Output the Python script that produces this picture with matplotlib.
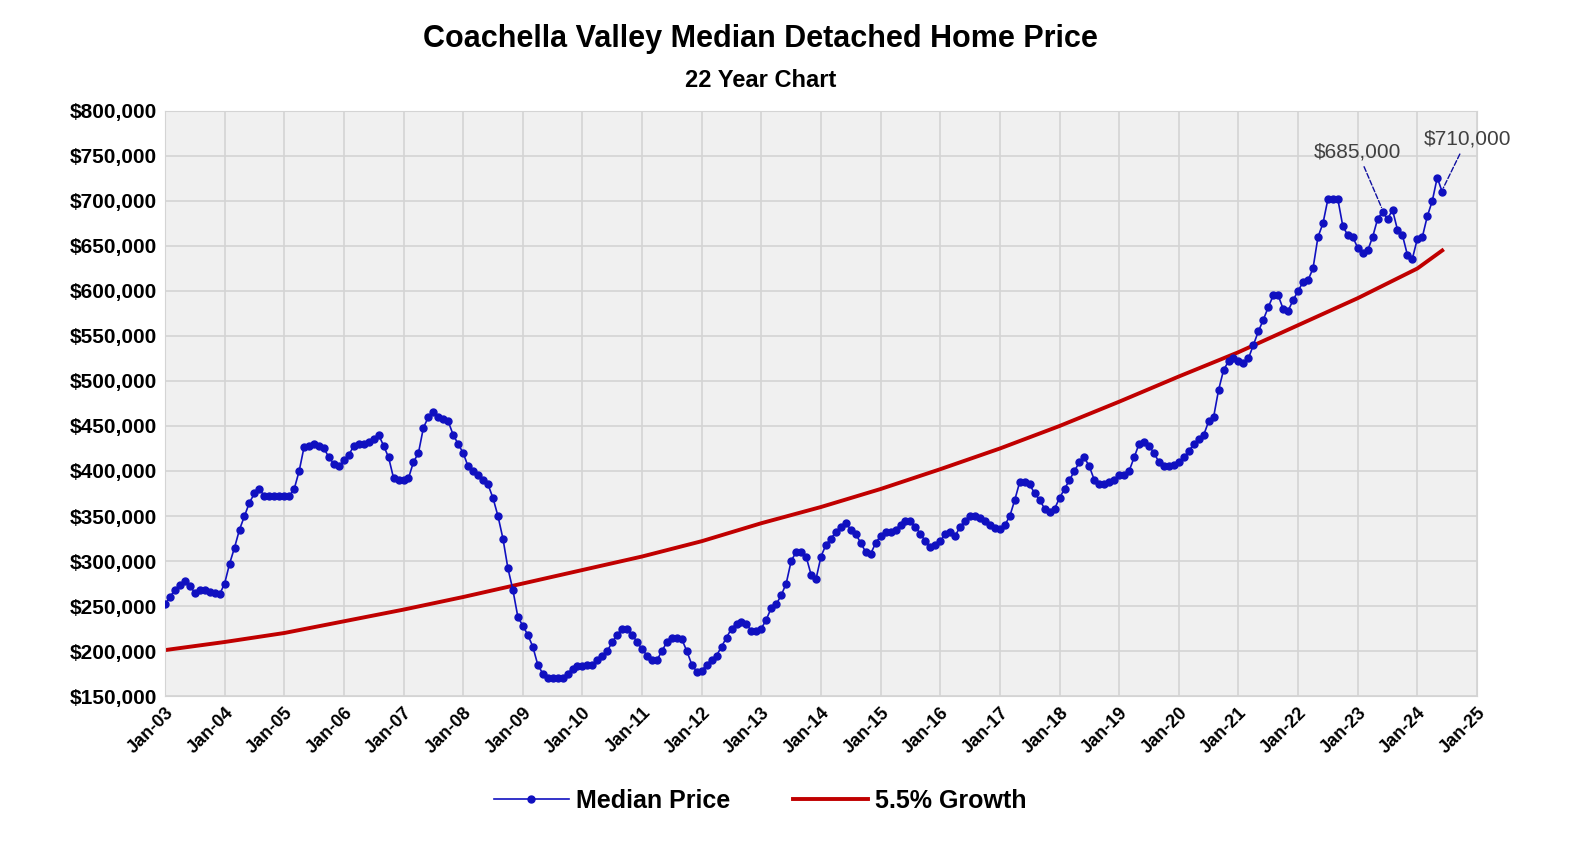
import numpy as np
import matplotlib.pyplot as plt
from matplotlib.ticker import FuncFormatter

plt.rcParams['font.family'] = ['Liberation Sans', 'DejaVu Sans']

# monthly median price (thousands), Jan-03 .. Jun-24
median_k = [
    252, 260, 268, 273, 278, 272, 265, 268, 268, 266, 265, 263,   # 2003
    275, 297, 315, 335, 350, 365, 375, 380, 372, 372, 372, 372,   # 2004
    372, 372, 380, 400, 427, 428, 430, 428, 425, 415, 408, 405,   # 2005
    412, 418, 428, 430, 430, 432, 435, 440, 428, 415, 392, 390,   # 2006
    390, 392, 410, 420, 448, 460, 465, 460, 458, 455, 440, 430,   # 2007
    420, 405, 400, 395, 390, 385, 370, 350, 325, 292, 268, 238,   # 2008
    228, 218, 205, 185, 175, 170, 170, 170, 170, 175, 180, 183,   # 2009
    183, 185, 185, 190, 195, 200, 210, 218, 225, 225, 218, 210,   # 2010
    202, 195, 190, 190, 200, 210, 215, 215, 213, 200, 185, 177,   # 2011
    178, 185, 190, 195, 205, 215, 225, 230, 232, 230, 222, 222,   # 2012
    225, 235, 248, 252, 262, 275, 300, 310, 310, 305, 285, 280,   # 2013
    305, 318, 325, 332, 338, 342, 335, 330, 320, 310, 308, 320,   # 2014
    328, 332, 332, 335, 340, 345, 345, 338, 330, 322, 316, 318,   # 2015
    322, 330, 332, 328, 338, 345, 350, 350, 348, 345, 340, 337,   # 2016
    336, 340, 350, 368, 388, 388, 385, 375, 368, 358, 355, 358,   # 2017
    370, 380, 390, 400, 410, 415, 405, 390, 385, 385, 388, 390,   # 2018
    395, 395, 400, 415, 430, 432, 428, 420, 410, 405, 405, 407,   # 2019
    410, 415, 422, 430, 435, 440, 455, 460, 490, 512, 522, 525,   # 2020
    522, 520, 525, 540, 555, 568, 582, 595, 595, 580, 578, 590,   # 2021
    600, 610, 612, 625, 660, 675, 702, 702, 702, 672, 662, 660,   # 2022
    648, 642, 645, 660, 680, 688, 680, 690, 668, 662, 640, 636,   # 2023
    658, 660, 683, 700, 726, 710,                                 # 2024
]
median = np.array(median_k) * 1000

# 5.5% growth line, values read at each January (plus Jun-24)
growth_months = [0, 12, 24, 36, 48, 60, 72, 84, 96, 108, 120, 132, 144,
                 156, 168, 180, 192, 204, 216, 228, 240, 252, 257]
growth_k = [201, 210, 220, 233, 246, 260, 275, 290, 305, 322, 342, 360, 380,
            402, 425, 450, 477, 505, 532, 562, 592, 625, 645]
growth = np.array(growth_k) * 1000

years = list(range(3, 26))
tick_labels = [f"Jan-{y:02d}" for y in years]

fig = plt.figure(figsize=(15.94, 8.63), dpi=100)
ax = fig.add_axes([0.1035, 0.1935, 0.8231, 0.6779])
ax.set_facecolor('#f0f0f0')

months = np.arange(len(median))
ax.plot(growth_months, growth, color='#c00000', lw=2.8, label='5.5% Growth', zorder=2)
ax.plot(months, median, color='#1010c0', lw=1.2, marker='o', ms=5,
        label='Median Price', zorder=3)

ax.set_xlim(0, 264)
ax.set_ylim(150000, 800000)
ax.set_xticks([12 * i for i in range(len(years))])
ax.set_xticklabels(tick_labels, rotation=45, ha='right', rotation_mode='anchor',
                   fontsize=13, fontweight='bold')
ax.set_yticks(np.arange(150000, 800001, 50000))
ax.yaxis.set_major_formatter(FuncFormatter(lambda v, p: f"${v:,.0f}"))
for t in ax.get_yticklabels():
    t.set_fontsize(15)
    t.set_fontweight('bold')
ax.grid(True, color='#d4d4d4', lw=1.2)
ax.set_axisbelow(True)
ax.tick_params(length=0, pad=6)
for s in ax.spines.values():
    s.set_color('#d4d4d4')

ax.annotate('$685,000', xy=(245, 690000), xytext=(240, 744000), fontsize=15,
            color='#404040', ha='center', va='bottom',
            arrowprops=dict(arrowstyle='-', ls='--', color='#1010a0', lw=1))
ax.annotate('$710,000', xy=(257, 712000), xytext=(262, 758000), fontsize=15,
            color='#404040', ha='center', va='bottom', annotation_clip=False,
            arrowprops=dict(arrowstyle='-', ls='--', color='#1010a0', lw=1))

fig.text(0.477, 0.955, 'Coachella Valley Median Detached Home Price',
         ha='center', va='center', fontsize=22, fontweight='bold')
fig.text(0.477, 0.907, '22 Year Chart', ha='center', va='center',
         fontsize=17, fontweight='bold')

handles, labels = ax.get_legend_handles_labels()
fig.legend(handles[::-1], labels[::-1], loc='center', bbox_to_anchor=(0.477, 0.072),
           ncol=2, frameon=False, prop={'size': 18, 'weight': 'bold'},
           handlelength=3, columnspacing=2.5, handletextpad=0.3)

fig.savefig('out.png', dpi=100)
